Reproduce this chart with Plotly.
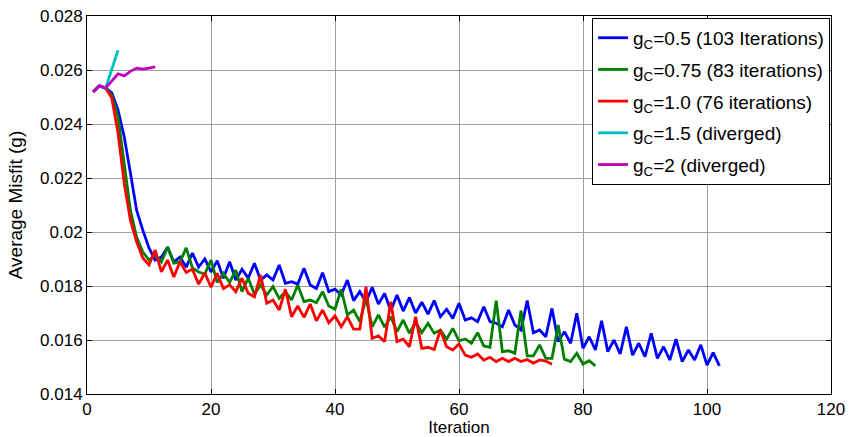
import plotly.graph_objects as go

blue = [0.02519, 0.02541, 0.02533, 0.02515, 0.02452, 0.02353, 0.02219, 0.02081, 0.02007, 0.01941,
        0.01896, 0.01907, 0.01944, 0.01889, 0.01907, 0.01870, 0.01922, 0.01870, 0.01900, 0.01852,
        0.01894, 0.01829, 0.01890, 0.01822, 0.01862, 0.01829, 0.01884, 0.01822, 0.01841, 0.01822,
        0.01878, 0.01810, 0.01816, 0.01807, 0.01866, 0.01804, 0.01791, 0.01849, 0.01779, 0.01788,
        0.01767, 0.01822, 0.01746, 0.01779, 0.01742, 0.01795, 0.01733, 0.01772, 0.01708, 0.01767,
        0.01707, 0.01757, 0.01700, 0.01740, 0.01696, 0.01746, 0.01686, 0.01714, 0.01680, 0.01736,
        0.01674, 0.01682, 0.01668, 0.01723, 0.01668, 0.01662, 0.01649, 0.01711, 0.01656, 0.01637,
        0.01746, 0.01627, 0.01637, 0.01612, 0.01717, 0.01594, 0.01631, 0.01588, 0.01699, 0.01569,
        0.01612, 0.01563, 0.01671, 0.01557, 0.01600, 0.01548, 0.01649, 0.01544, 0.01588, 0.01538,
        0.01625, 0.01532, 0.01575, 0.01526, 0.01603, 0.01520, 0.01563, 0.01526, 0.01582, 0.01507,
        0.01553, 0.01504]

green = [0.02519, 0.02541, 0.02533, 0.02507, 0.02427, 0.02256, 0.02081, 0.01981, 0.01926, 0.01896,
         0.01915, 0.01889, 0.01944, 0.01885, 0.01889, 0.01941, 0.01867, 0.01852, 0.01844, 0.01896,
         0.01813, 0.01847, 0.01813, 0.01859, 0.01779, 0.01829, 0.01770, 0.01804, 0.01767, 0.01798,
         0.01754, 0.01779, 0.01748, 0.01804, 0.01742, 0.01748, 0.01738, 0.01779, 0.01726, 0.01714,
         0.01788, 0.01693, 0.01711, 0.01668, 0.01754, 0.01649, 0.01693, 0.01648, 0.01686, 0.01631,
         0.01674, 0.01625, 0.01665, 0.01627, 0.01662, 0.01625, 0.01637, 0.01603, 0.01643, 0.01597,
         0.01604, 0.01588, 0.01627, 0.01578, 0.01573, 0.01746, 0.01557, 0.01560, 0.01551, 0.01709,
         0.01541, 0.01541, 0.01582, 0.01532, 0.01532, 0.01656, 0.01529, 0.01520, 0.01551, 0.01511,
         0.01523, 0.01504]

red = [0.02519, 0.02541, 0.02533, 0.02496, 0.02367, 0.02181, 0.02044, 0.01964, 0.01904, 0.01878,
       0.01933, 0.01852, 0.01896, 0.01833, 0.01890, 0.01850, 0.01862, 0.01807, 0.01848, 0.01796,
       0.01847, 0.01791, 0.01804, 0.01779, 0.01829, 0.01773, 0.01760, 0.01841, 0.01736, 0.01748,
       0.01711, 0.01788, 0.01686, 0.01726, 0.01684, 0.01733, 0.01671, 0.01711, 0.01664, 0.01689,
       0.01649, 0.01686, 0.01640, 0.01640, 0.01797, 0.01606, 0.01615, 0.01594, 0.01742, 0.01594,
       0.01603, 0.01575, 0.01686, 0.01569, 0.01573, 0.01565, 0.01637, 0.01575, 0.01563, 0.01585,
       0.01544, 0.01536, 0.01548, 0.01526, 0.01536, 0.01520, 0.01532, 0.01520, 0.01532, 0.01520,
       0.01528, 0.01514, 0.01526, 0.01522, 0.01510]

cyan = [0.02519, 0.02541, 0.02533, 0.02605, 0.02673]

magenta = [0.02519, 0.02541, 0.02533, 0.02559, 0.02586, 0.02578, 0.02595, 0.02607, 0.02603, 0.02607,
           0.02612]

series = [
    (blue, "g<sub>C</sub>=0.5 (103 Iterations)", "#0000ff"),
    (green, "g<sub>C</sub>=0.75 (83 iterations)", "#008000"),
    (red, "g<sub>C</sub>=1.0 (76 iterations)", "#ff0000"),
    (cyan, "g<sub>C</sub>=1.5 (diverged)", "#00bfbf"),
    (magenta, "g<sub>C</sub>=2 (diverged)", "#bf00bf"),
]

x_ticks = [0, 20, 40, 60, 80, 100, 120]
y_ticks = [0.014, 0.016, 0.018, 0.020, 0.022, 0.024, 0.026, 0.028]
y_labels = ["0.014", "0.016", "0.018", "0.02", "0.022", "0.024", "0.026", "0.028"]

fig = go.Figure()
for i, (vals, name, color) in enumerate(series):
    fig.add_trace(go.Scatter(
        x=list(range(1, len(vals) + 1)), y=vals, mode="lines", name=name,
        legendgroup=f"g{i}",
        line=dict(color=color, width=2.8)))

font = "Liberation Sans, Arial, sans-serif"
fig.update_layout(
    width=852, height=437,
    margin=dict(l=87, r=21, t=16, b=43, autoexpand=False),
    paper_bgcolor="white", plot_bgcolor="white",
    font=dict(family=font, size=17, color="black"),
    showlegend=True,
    legend=dict(x=0.9987, y=0.995, xanchor="right", yanchor="top",
                bgcolor="white", bordercolor="black", borderwidth=1,
                font=dict(family=font, size=19, color="black"),
                itemwidth=30, tracegroupgap=4),
)
fig.update_xaxes(range=[0, 120], tickvals=x_ticks, ticktext=[str(v) for v in x_ticks],
                 showgrid=True, gridcolor="#a0a0a0", gridwidth=1,
                 showline=True, linecolor="black", linewidth=1, mirror="ticks",
                 ticks="inside", ticklen=5, tickcolor="black", zeroline=False,
                 automargin=False,
                 title=dict(text="Iteration", font=dict(size=17), standoff=3))
fig.update_yaxes(range=[0.014, 0.028], tickvals=y_ticks, ticktext=y_labels,
                 showgrid=True, gridcolor="#a0a0a0", gridwidth=1,
                 showline=True, linecolor="black", linewidth=1, mirror="ticks",
                 ticks="inside", ticklen=5, tickcolor="black", zeroline=False,
                 automargin=False,
                 title=dict(text="Average Misfit (g)", font=dict(size=19), standoff=12))

fig.write_html("out.html")
